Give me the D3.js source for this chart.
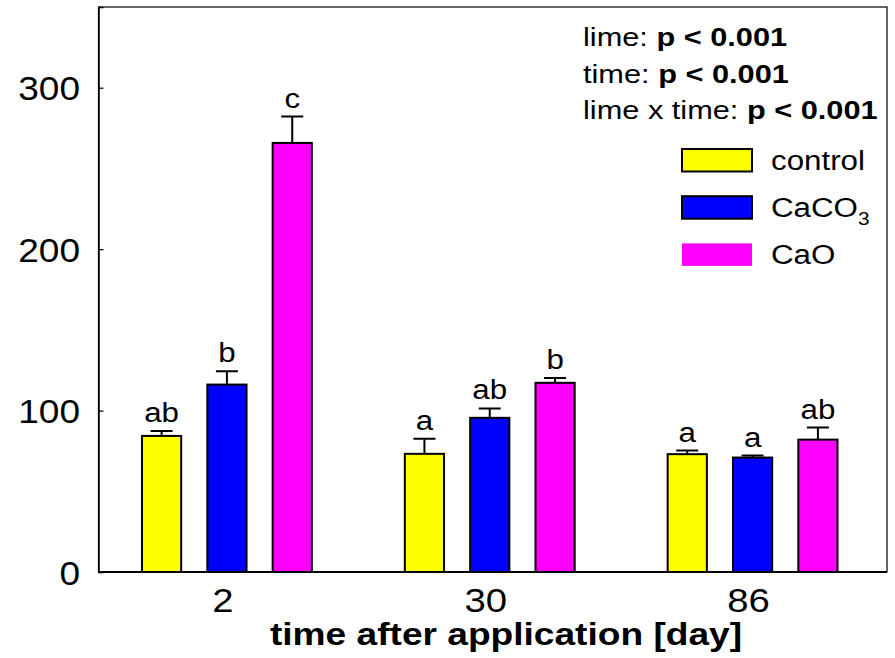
<!DOCTYPE html>
<html>
<head>
<meta charset="utf-8">
<script src="https://cdn.jsdelivr.net/npm/d3@7"></script>
<style>
  body { margin: 0; background: #fff; }
  text { font-family: "Liberation Sans", Arial, sans-serif; fill: #000; }
</style>
</head>
<body>
<div id="chart"></div>
<script>
// data
const days = ["2", "30", "86"];
const treatments = ["control", "CaCO3", "CaO"];
const colors = ["#ffff00", "#0000ff", "#ff00ff"];
const means = {
    control: [84.3, 73.2, 73.0],
    CaCO3: [116.1, 95.5, 70.9],
    CaO: [265.8, 117.2, 82.0]
};
const errors = {
    control: [3.1, 9.3, 2.2],
    CaCO3: [8.3, 5.8, 1.2],
    CaO: [16.3, 2.9, 7.5]
};
const letters = {
    control: ["ab", "a", "a"],
    CaCO3: ["b", "ab", "a"],
    CaO: ["c", "b", "ab"]
};
const yTicks = [0, 100, 200, 300];
const stats = [
    ["lime: ", "p < 0.001"],
    ["time: ", "p < 0.001"],
    ["lime x time: ", "p < 0.001"]
];

const W = 895, H = 658;
const frame = { left: 98.5, right: 887, top: 7, bottom: 572 };
const SX = 1.16; // the original text is a little wide

const svg = d3.select("#chart").append("svg")
    .attr("width", W)
    .attr("height", H);

// text placed at (px, py) and stretched horizontally
function wideText(sel, px, py, sx) {
    const s = sx || SX;
    return sel.attr("transform", (d, i) => {
        const a = typeof px === "function" ? px(d, i) : px;
        const b = typeof py === "function" ? py(d, i) : py;
        return `translate(${a},${b}) scale(${s},1)`;
    });
}

const x = d3.scaleBand()
    .domain(days)
    .range([frame.left - 3, frame.right - 3]);

const xInner = d3.scaleBand()
    .domain(treatments)
    .range([-98, 98])
    .paddingInner(0.4)
    .paddingOuter(0.2);

const y = d3.scaleLinear()
    .domain([0, 350])
    .range([frame.bottom, frame.top]);

// bars
const rows = [];
days.forEach((d, i) => {
    treatments.forEach((t, j) => {
        rows.push({ day: d, t: t, color: colors[j], v: means[t][i], e: errors[t][i], l: letters[t][i] });
    });
});

const cx = d => x(d.day) + x.bandwidth() / 2 + xInner(d.t) + xInner.bandwidth() / 2;

const g = svg.append("g");

// error bars first so the bar outline sits on top
g.selectAll(".err")
    .data(rows)
    .enter().append("path")
    .attr("class", "err")
    .attr("d", d => {
        const c = cx(d), top = y(d.v + d.e);
        return `M${c},${y(d.v)}V${top}M${c - 11},${top}H${c + 11}`;
    })
    .attr("stroke", "#000")
    .attr("stroke-width", 2)
    .attr("fill", "none");

g.selectAll(".bar")
    .data(rows)
    .enter().append("rect")
    .attr("class", "bar")
    .attr("x", d => cx(d) - xInner.bandwidth() / 2)
    .attr("y", d => y(d.v))
    .attr("width", xInner.bandwidth())
    .attr("height", d => y(0) - y(d.v))
    .attr("fill", d => d.color)
    .attr("stroke", "#000")
    .attr("stroke-width", 2);

wideText(g.selectAll(".letter")
    .data(rows)
    .enter().append("text")
    .attr("class", "letter")
    .attr("text-anchor", "middle")
    .style("font-size", "27px")
    .text(d => d.l), d => cx(d), d => y(d.v + d.e) - 9);

// frame
svg.append("rect")
    .attr("x", frame.left)
    .attr("y", frame.top)
    .attr("width", frame.right - frame.left)
    .attr("height", frame.bottom - frame.top)
    .attr("fill", "none")
    .attr("stroke", "#000")
    .attr("stroke-width", 1.2);

// y axis, ticks pointing inward
const yAxis = svg.append("g")
    .attr("transform", `translate(${frame.left},0)`)
    .call(d3.axisRight(y).tickValues(yTicks).tickSize(5).tickFormat(""));
yAxis.select(".domain").attr("stroke-width", 1.5);
yAxis.selectAll("line").attr("stroke-width", 1.2);

wideText(svg.append("g").selectAll("text")
    .data(yTicks)
    .enter().append("text")
    .attr("text-anchor", "end")
    .style("font-size", "34px")
    .text(d => d), 80, d => y(d) + 12.5, 1.09);

// x axis
svg.append("line")
    .attr("x1", frame.left).attr("x2", frame.right)
    .attr("y1", frame.bottom).attr("y2", frame.bottom)
    .attr("stroke", "#000")
    .attr("stroke-width", 2.2);

wideText(svg.append("g").selectAll("text")
    .data(days)
    .enter().append("text")
    .attr("text-anchor", "middle")
    .style("font-size", "33px")
    .text(d => d), d => x(d) + x.bandwidth() / 2 - 4, 612);

wideText(svg.append("text")
    .attr("text-anchor", "middle")
    .style("font-size", "32px")
    .style("font-weight", "bold")
    .text("time after application [day]"), 506, 645);

// statistics text
const st = wideText(svg.append("g").selectAll("text")
    .data(stats)
    .enter().append("text")
    .style("font-size", "26.5px"), 583, (d, i) => 46 + i * 36.6);
st.append("tspan").text(d => d[0]);
st.append("tspan").style("font-weight", "bold").text(d => d[1]);

// legend
const leg = svg.append("g").selectAll("g")
    .data(treatments)
    .enter().append("g")
    .attr("transform", (d, i) => `translate(682,${149 + i * 47.2})`);

leg.append("rect")
    .attr("width", 70)
    .attr("height", 22.5)
    .attr("fill", (d, i) => colors[i])
    .attr("stroke", (d, i) => i === 2 ? "none" : "#000")
    .attr("stroke-width", 2);

const lt = wideText(leg.append("text")
    .style("font-size", "27px"), 89, 21);
lt.each(function(d) {
    const t = d3.select(this);
    if (d === "CaCO3") {
        t.append("tspan").text("CaCO");
        t.append("tspan").attr("dy", 8).style("font-size", "18px").text("3");
    } else {
        t.text(d);
    }
});
</script>
</body>
</html>
